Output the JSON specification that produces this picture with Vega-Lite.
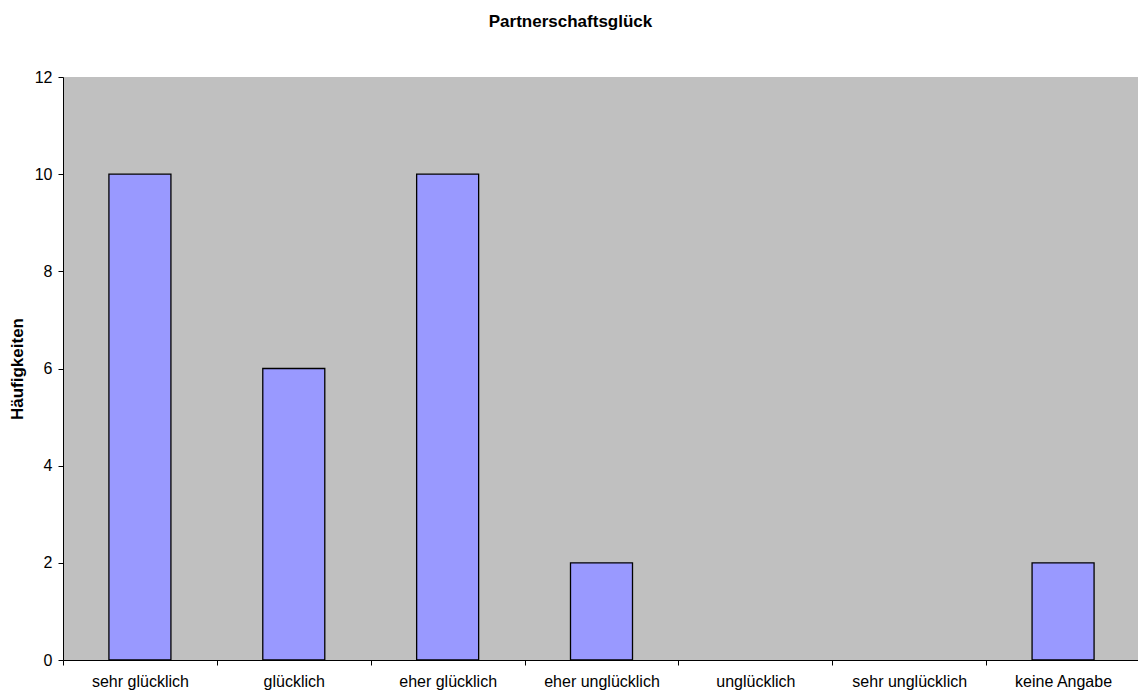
{
  "$schema": "https://vega.github.io/schema/vega-lite/v6.json",
  "width": 1077,
  "height": 583,
  "autosize": {"type": "none"},
  "padding": {"left": 63, "top": 77, "right": 0, "bottom": 31},
  "background": "white",
  "config": {
    "font": "Liberation Sans",
    "view": {"fill": "#C0C0C0", "stroke": null}
  },
  "title": {
    "text": "Partnerschaftsglück",
    "font": "Liberation Sans",
    "fontSize": 17,
    "fontWeight": "bold",
    "color": "black",
    "anchor": "middle",
    "dx": -31,
    "offset": 38
  },
  "data": {
    "values": [
      {"kategorie": "sehr glücklich", "haeufigkeit": 10},
      {"kategorie": "glücklich", "haeufigkeit": 6},
      {"kategorie": "eher glücklich", "haeufigkeit": 10},
      {"kategorie": "eher unglücklich", "haeufigkeit": 2},
      {"kategorie": "unglücklich", "haeufigkeit": 0},
      {"kategorie": "sehr unglücklich", "haeufigkeit": 0},
      {"kategorie": "keine Angabe", "haeufigkeit": 2}
    ]
  },
  "transform": [{"filter": "datum.haeufigkeit > 0"}],
  "mark": {"type": "bar", "width": {"band": 0.403}, "fill": "#9999FF", "stroke": "black", "strokeWidth": 1.3},
  "encoding": {
    "x": {
      "field": "kategorie",
      "type": "nominal",
      "sort": null,
      "scale": {
        "domain": ["sehr glücklich", "glücklich", "eher glücklich", "eher unglücklich", "unglücklich", "sehr unglücklich", "keine Angabe"],
        "paddingInner": 0,
        "paddingOuter": 0
      },
      "axis": {
        "title": null,
        "labelAngle": 0,
        "labelFontSize": 16,
        "labelColor": "black",
        "labelPadding": 8,
        "tickBand": "extent",
        "tickSize": 5,
        "tickColor": "black",
        "domainColor": "black",
        "grid": false
      }
    },
    "y": {
      "field": "haeufigkeit",
      "type": "quantitative",
      "scale": {"domain": [0, 12], "nice": false},
      "axis": {
        "title": "Häufigkeiten",
        "titleFontSize": 17,
        "titleFontWeight": "bold",
        "titleColor": "black",
        "titlePadding": 8,
        "values": [0, 2, 4, 6, 8, 10, 12],
        "labelFontSize": 16,
        "labelColor": "black",
        "labelPadding": 6,
        "tickSize": 5,
        "tickColor": "black",
        "domainColor": "black",
        "grid": false
      }
    }
  }
}
